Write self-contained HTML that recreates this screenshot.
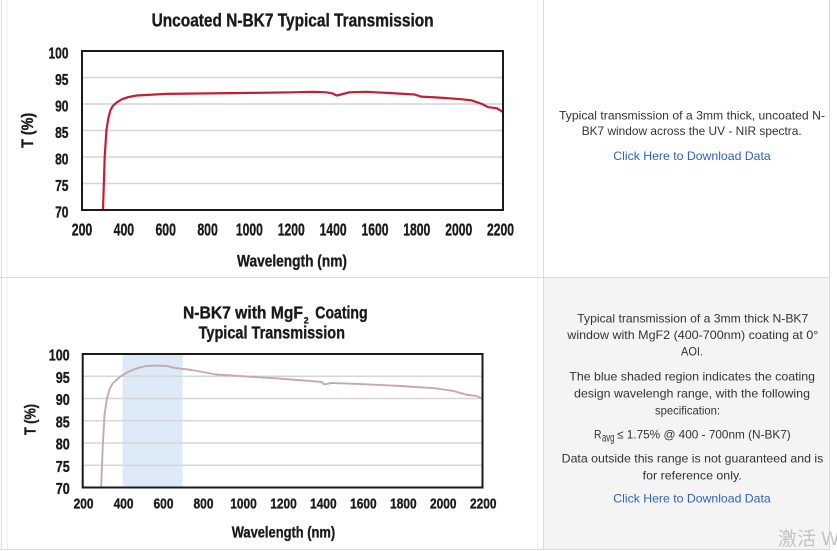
<!DOCTYPE html>
<html>
<head>
<meta charset="utf-8">
<style>
html,body{margin:0;padding:0;background:#fff;}
body{width:837px;height:551px;overflow:hidden;}
svg{display:block;}
.cond{font-family:"Liberation Sans Narrow","Liberation Sans",sans-serif;font-weight:bold;fill:#1a1a1a;stroke:#1a1a1a;stroke-width:0.35;}
.txt{font-family:"Liberation Sans",sans-serif;font-size:12px;fill:#333;}
.lnk{font-family:"Liberation Sans",sans-serif;font-size:12px;fill:#2f62b5;}
</style>
</head>
<body>
<svg width="837" height="551" viewBox="0 0 837 551" xmlns="http://www.w3.org/2000/svg">
  <!-- backgrounds -->
  <rect x="0" y="0" width="837" height="551" fill="#fff"/>
  <rect x="544" y="278" width="285" height="271" fill="#f4f4f4"/>

  <!-- table borders -->
  <line x1="7.5" y1="0" x2="7.5" y2="549" stroke="#f1f1f1" stroke-width="1"/>
  <line x1="537.5" y1="0" x2="537.5" y2="549" stroke="#f1f1f1" stroke-width="1"/>
  <line x1="1.5" y1="0" x2="1.5" y2="550" stroke="#dcdcdc" stroke-width="1"/>
  <line x1="543.5" y1="0" x2="543.5" y2="550" stroke="#dcdcdc" stroke-width="1"/>
  <line x1="829.5" y1="0" x2="829.5" y2="550" stroke="#dcdcdc" stroke-width="1"/>
  <line x1="0" y1="277.5" x2="830" y2="277.5" stroke="#dcdcdc" stroke-width="1"/>
  <line x1="0" y1="549.5" x2="830" y2="549.5" stroke="#dcdcdc" stroke-width="1"/>

  <!-- ================= CHART 1 ================= -->
  <text class="cond" x="151.6" y="26.5" font-size="18" textLength="282" lengthAdjust="spacingAndGlyphs">Uncoated N-BK7 Typical Transmission</text>

  <g stroke="#d4d4d4" stroke-width="1.6">
    <line x1="82" y1="77.5" x2="503" y2="77.5"/>
    <line x1="82" y1="104" x2="503" y2="104"/>
    <line x1="82" y1="130.5" x2="503" y2="130.5"/>
    <line x1="82" y1="157" x2="503" y2="157"/>
    <line x1="82" y1="183.5" x2="503" y2="183.5"/>
  </g>

  <polyline fill="none" stroke="#c41e35" stroke-width="2.2" stroke-linejoin="round" points="
    103,210 104.7,157 106.4,130.5 108.3,118.3 110.4,110.4 112.7,106.1 116.7,102.4 122,99.2 128.3,97.1 136.7,95.5
    166.2,93.9 208.3,93.4 250.4,92.9 292.5,92.3 313.6,91.8 326.2,92.3 332.5,93.4 336.7,95.5 340.9,94.5
    349.3,92.3 366.2,91.8 387.2,92.9 414.6,94.5 420.9,96.6 439.9,97.6 460.9,99.2 471.4,100.3 482,104
    488.3,107.2 496.7,108.2 503,112"/>

  <rect x="82" y="51" width="421" height="159" fill="none" stroke="#1a1a1a" stroke-width="2"/>

  <!-- y tick labels chart 1 -->
  <g class="cond" font-size="16" text-anchor="end">
    <text x="68.5" y="58.3" textLength="20" lengthAdjust="spacingAndGlyphs">100</text>
    <text x="68.5" y="84.8" textLength="13.4" lengthAdjust="spacingAndGlyphs">95</text>
    <text x="68.5" y="111.3" textLength="13.4" lengthAdjust="spacingAndGlyphs">90</text>
    <text x="68.5" y="137.8" textLength="13.4" lengthAdjust="spacingAndGlyphs">85</text>
    <text x="68.5" y="164.3" textLength="13.4" lengthAdjust="spacingAndGlyphs">80</text>
    <text x="68.5" y="190.8" textLength="13.4" lengthAdjust="spacingAndGlyphs">75</text>
    <text x="68.5" y="217.3" textLength="13.4" lengthAdjust="spacingAndGlyphs">70</text>
  </g>

  <!-- x tick labels chart 1 -->
  <g class="cond" font-size="17.5" text-anchor="middle">
    <text x="82" y="235.5" textLength="20.5" lengthAdjust="spacingAndGlyphs">200</text>
    <text x="123.9" y="235.5" textLength="20.5" lengthAdjust="spacingAndGlyphs">400</text>
    <text x="165.7" y="235.5" textLength="20.5" lengthAdjust="spacingAndGlyphs">600</text>
    <text x="207.6" y="235.5" textLength="20.5" lengthAdjust="spacingAndGlyphs">800</text>
    <text x="249.4" y="235.5" textLength="27" lengthAdjust="spacingAndGlyphs">1000</text>
    <text x="291.3" y="235.5" textLength="27" lengthAdjust="spacingAndGlyphs">1200</text>
    <text x="333.1" y="235.5" textLength="27" lengthAdjust="spacingAndGlyphs">1400</text>
    <text x="375" y="235.5" textLength="27" lengthAdjust="spacingAndGlyphs">1600</text>
    <text x="416.8" y="235.5" textLength="27" lengthAdjust="spacingAndGlyphs">1800</text>
    <text x="458.7" y="235.5" textLength="27" lengthAdjust="spacingAndGlyphs">2000</text>
    <text x="500.5" y="235.5" textLength="27" lengthAdjust="spacingAndGlyphs">2200</text>
  </g>

  <text class="cond" x="237" y="266.5" font-size="17" textLength="110" lengthAdjust="spacingAndGlyphs">Wavelength (nm)</text>
  <text class="cond" font-size="16.5" text-anchor="middle" transform="translate(32.8,130.4) rotate(-90)" textLength="35" lengthAdjust="spacingAndGlyphs">T (%)</text>

  <!-- ================= CHART 2 ================= -->
  <text class="cond" x="183" y="318.3" font-size="17.5" textLength="120" lengthAdjust="spacingAndGlyphs">N-BK7 with MgF</text>
  <text class="cond" x="303.8" y="323.5" font-size="9.5" textLength="4.8" lengthAdjust="spacingAndGlyphs">2</text>
  <text class="cond" x="315.3" y="318.3" font-size="17.5" textLength="52.3" lengthAdjust="spacingAndGlyphs">Coating</text>
  <text class="cond" x="198.6" y="338.3" font-size="17.5" textLength="146.4" lengthAdjust="spacingAndGlyphs">Typical Transmission</text>

  <rect x="122.6" y="354" width="60" height="133.5" fill="#dce9f6"/>

  <g stroke="#d6d6d6" stroke-width="1.5">
    <line x1="82.7" y1="376.25" x2="482.5" y2="376.25"/>
    <line x1="82.7" y1="398.5" x2="482.5" y2="398.5"/>
    <line x1="82.7" y1="420.75" x2="482.5" y2="420.75"/>
    <line x1="82.7" y1="443" x2="482.5" y2="443"/>
    <line x1="82.7" y1="465.25" x2="482.5" y2="465.25"/>
  </g>

  <polyline fill="none" stroke="#c9a7b0" stroke-width="1.9" stroke-linejoin="round" points="
    101.1,487.5 102.7,447.5 104.5,415 106.9,398.5 109.7,388.7 112.7,383.4 120.1,376.7 126.7,372.7 132.5,370
    138.7,367.8 146.3,366 156.9,365.6 166.7,366 174.1,367.8 191.6,370 216,374.5 244,376.3 278.8,378.5
    317.2,381.6 321.6,382 324.2,384.3 327.6,383.8 331.2,382.9 366.2,384.3 401,386 435.7,388.3 453.3,390.9
    467.3,394.9 475.9,395.8 482.5,398.9"/>

  <rect x="82.7" y="354" width="399.8" height="133.5" fill="none" stroke="#1a1a1a" stroke-width="2"/>

  <!-- y tick labels chart 2 -->
  <g class="cond" font-size="16" text-anchor="end">
    <text x="69.7" y="360.5" textLength="21" lengthAdjust="spacingAndGlyphs">100</text>
    <text x="69.7" y="382.75" textLength="14" lengthAdjust="spacingAndGlyphs">95</text>
    <text x="69.7" y="405" textLength="14" lengthAdjust="spacingAndGlyphs">90</text>
    <text x="69.7" y="427.25" textLength="14" lengthAdjust="spacingAndGlyphs">85</text>
    <text x="69.7" y="449.5" textLength="14" lengthAdjust="spacingAndGlyphs">80</text>
    <text x="69.7" y="471.75" textLength="14" lengthAdjust="spacingAndGlyphs">75</text>
    <text x="69.7" y="494" textLength="14" lengthAdjust="spacingAndGlyphs">70</text>
  </g>

  <!-- x tick labels chart 2 -->
  <g class="cond" font-size="15" text-anchor="middle">
    <text x="83.6" y="508.5" textLength="20" lengthAdjust="spacingAndGlyphs">200</text>
    <text x="123.6" y="508.5" textLength="20" lengthAdjust="spacingAndGlyphs">400</text>
    <text x="163.5" y="508.5" textLength="20" lengthAdjust="spacingAndGlyphs">600</text>
    <text x="203.5" y="508.5" textLength="20" lengthAdjust="spacingAndGlyphs">800</text>
    <text x="243.5" y="508.5" textLength="26.5" lengthAdjust="spacingAndGlyphs">1000</text>
    <text x="283.5" y="508.5" textLength="26.5" lengthAdjust="spacingAndGlyphs">1200</text>
    <text x="323.4" y="508.5" textLength="26.5" lengthAdjust="spacingAndGlyphs">1400</text>
    <text x="363.4" y="508.5" textLength="26.5" lengthAdjust="spacingAndGlyphs">1600</text>
    <text x="403.4" y="508.5" textLength="26.5" lengthAdjust="spacingAndGlyphs">1800</text>
    <text x="443.3" y="508.5" textLength="26.5" lengthAdjust="spacingAndGlyphs">2000</text>
    <text x="483.3" y="508.5" textLength="26.5" lengthAdjust="spacingAndGlyphs">2200</text>
  </g>

  <text class="cond" x="231.7" y="537.5" font-size="16" textLength="103.5" lengthAdjust="spacingAndGlyphs">Wavelength (nm)</text>
  <text class="cond" font-size="15.5" text-anchor="middle" transform="translate(35.5,419.5) rotate(-90)" textLength="31" lengthAdjust="spacingAndGlyphs">T (%)</text>

  <!-- ================= RIGHT TEXT, TOP ================= -->
  <text class="txt" x="559" y="119.5" textLength="266" lengthAdjust="spacingAndGlyphs">Typical transmission of a 3mm thick, uncoated N-</text>
  <text class="txt" x="581.7" y="135" textLength="220" lengthAdjust="spacingAndGlyphs">BK7 window across the UV - NIR spectra.</text>
  <text class="lnk" x="613.3" y="160" textLength="157.4" lengthAdjust="spacingAndGlyphs">Click Here to Download Data</text>

  <!-- ================= RIGHT TEXT, BOTTOM ================= -->
  <text class="txt" x="577.3" y="322.5" textLength="231" lengthAdjust="spacingAndGlyphs">Typical transmission of a 3mm thick N-BK7</text>
  <text class="txt" x="567.3" y="339" textLength="251" lengthAdjust="spacingAndGlyphs">window with MgF2 (400-700nm) coating at 0°</text>
  <text class="txt" x="681" y="355.5" textLength="22" lengthAdjust="spacingAndGlyphs">AOI.</text>
  <text class="txt" x="569.3" y="380.5" textLength="245.7" lengthAdjust="spacingAndGlyphs">The blue shaded region indicates the coating</text>
  <text class="txt" x="574" y="397.5" textLength="236" lengthAdjust="spacingAndGlyphs">design wavelengh range, with the following</text>
  <text class="txt" x="655" y="414.5" textLength="65" lengthAdjust="spacingAndGlyphs">specification:</text>
  <text class="txt" x="594" y="438.5" textLength="7.5" lengthAdjust="spacingAndGlyphs">R</text>
  <text class="txt" x="602" y="441.5" font-size="8" textLength="12.5" lengthAdjust="spacingAndGlyphs">avg</text>
  <text class="txt" x="617" y="438.5" textLength="173.7" lengthAdjust="spacingAndGlyphs">≤ 1.75% @ 400 - 700nm (N-BK7)</text>
  <text class="txt" x="561.7" y="462.5" textLength="261.6" lengthAdjust="spacingAndGlyphs">Data outside this range is not guaranteed and is</text>
  <text class="txt" x="642.7" y="479.5" textLength="99" lengthAdjust="spacingAndGlyphs">for reference only.</text>
  <text class="lnk" x="613.3" y="502.5" textLength="157.4" lengthAdjust="spacingAndGlyphs">Click Here to Download Data</text>

  <!-- watermark -->
  <text x="778" y="545" font-size="19" fill="#c4c4c4" font-family="'Liberation Sans','Noto Sans CJK SC',sans-serif">激活 W</text>
</svg>
</body>
</html>
